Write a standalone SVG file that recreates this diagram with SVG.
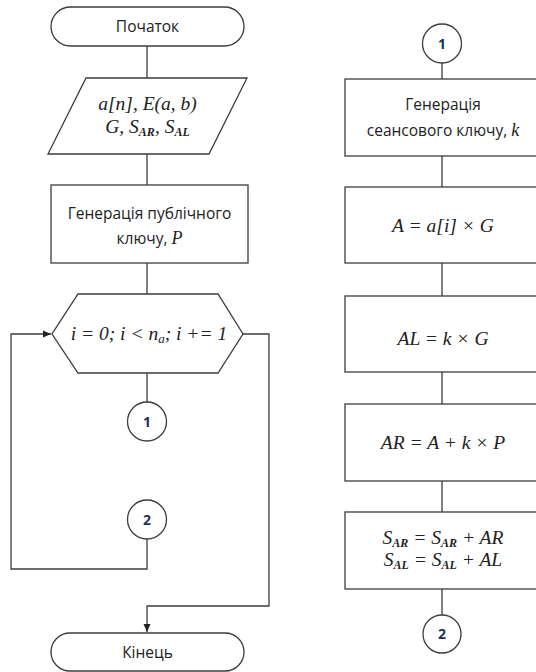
<svg xmlns="http://www.w3.org/2000/svg" width="536" height="672" viewBox="0 0 536 672">
<style>
.s{fill:#fff;stroke:#3c3c3c;stroke-width:1.3}
.c{fill:none;stroke:#3c3c3c;stroke-width:1.3}
.t{font-family:"Open Sans","Liberation Sans",sans-serif;font-size:15.5px;fill:#222;text-anchor:middle}
.m{font-family:"Liberation Serif","DejaVu Serif",serif;font-style:italic;font-size:19.5px;fill:#222;text-anchor:middle}
.u{font-size:12px;font-weight:bold}
.n{font-family:"Open Sans","Liberation Sans",sans-serif;font-size:14px;font-weight:bold;fill:#1f2f5a;text-anchor:middle}
</style>
<defs>
<marker id="ar" markerWidth="10" markerHeight="10" refX="9" refY="5" orient="auto" markerUnits="userSpaceOnUse">
<path d="M1,1.5 L9,5 L1,8.5 Z" fill="#222"/>
</marker>
</defs>
<g id="connectors">
<line class="c" x1="147" y1="46" x2="147" y2="78"/>
<line class="c" x1="147" y1="154" x2="147" y2="185"/>
<line class="c" x1="147" y1="263" x2="147" y2="294"/>
<line class="c" x1="147" y1="373" x2="147" y2="402"/>
<polyline class="c" points="147,539 147,569 11,569 11,334 51,334" marker-end="url(#ar)"/>
<polyline class="c" points="243,334 269,334 269,606 147,606 147,632" marker-end="url(#ar)"/>
<line class="c" x1="442" y1="63" x2="442" y2="79"/>
<line class="c" x1="442" y1="156" x2="442" y2="187"/>
<line class="c" x1="442" y1="263" x2="442" y2="296"/>
<line class="c" x1="442" y1="372" x2="442" y2="404"/>
<line class="c" x1="442" y1="481" x2="442" y2="512"/>
<line class="c" x1="442" y1="589" x2="442" y2="615"/>
</g>
<g id="start">
<rect class="s" x="51" y="7" width="193" height="39" rx="19.5"/>
<text class="t" x="147.5" y="32">Початок</text>
</g>
<g id="input">
<polygon class="s" points="86,78 247,78 209,154 48,154"/>
<text class="m" x="147.5" y="110">a[n], E(a, b)</text>
<text class="m" x="147.5" y="133">G, S<tspan class="u" dy="3">AR</tspan><tspan dy="-3">, S</tspan><tspan class="u" dy="3">AL</tspan></text>
</g>
<g id="pubkey">
<rect class="s" x="51" y="185" width="197" height="78"/>
<text class="t" x="149.5" y="219">Генерація публічного</text>
<text class="t" x="149.5" y="244">ключу, <tspan class="m" style="font-size:18px">P</tspan></text>
</g>
<g id="loop">
<polygon class="s" points="78,294 218,294 243,334 218,373 78,373 52,334"/>
<text class="m" x="149" y="340">i = 0; i &lt; n<tspan style="font-size:13px" dy="3">a</tspan><tspan dy="-3">; i += 1</tspan></text>
</g>
<g id="conn1a">
<circle class="s" cx="147" cy="421.5" r="19.5"/>
<text class="n" x="147" y="426.5">1</text>
</g>
<g id="conn2a">
<circle class="s" cx="147" cy="519.5" r="19.5"/>
<text class="n" x="147" y="524.5">2</text>
</g>
<g id="end">
<rect class="s" x="51" y="633" width="193" height="38" rx="19"/>
<text class="t" x="147.5" y="658">Кінець</text>
</g>
<g id="conn1b">
<circle class="s" cx="442" cy="43.5" r="19.5"/>
<text class="n" x="442" y="48.5">1</text>
</g>
<g id="sesskey">
<rect class="s" x="345" y="79" width="197" height="77"/>
<text class="t" x="443" y="110">Генерація</text>
<text class="t" x="443" y="136">сеансового ключу, <tspan class="m" style="font-size:18px">k</tspan></text>
</g>
<g id="calcA">
<rect class="s" x="345" y="187" width="197" height="76"/>
<text class="m" x="443" y="232">A = a[i] × G</text>
</g>
<g id="calcAL">
<rect class="s" x="345" y="296" width="197" height="76"/>
<text class="m" x="443" y="345">AL = k × G</text>
</g>
<g id="calcAR">
<rect class="s" x="345" y="404" width="197" height="77"/>
<text class="m" x="443" y="449">AR = A + k × P</text>
</g>
<g id="sums">
<rect class="s" x="345" y="512" width="197" height="77"/>
<text class="m" x="443" y="544">S<tspan class="u" dy="3">AR</tspan><tspan dy="-3"> = S</tspan><tspan class="u" dy="3">AR</tspan><tspan dy="-3"> + AR</tspan></text>
<text class="m" x="443" y="566">S<tspan class="u" dy="3">AL</tspan><tspan dy="-3"> = S</tspan><tspan class="u" dy="3">AL</tspan><tspan dy="-3"> + AL</tspan></text>
</g>
<g id="conn2b">
<circle class="s" cx="442" cy="634" r="19"/>
<text class="n" x="442" y="639">2</text>
</g>
</svg>
